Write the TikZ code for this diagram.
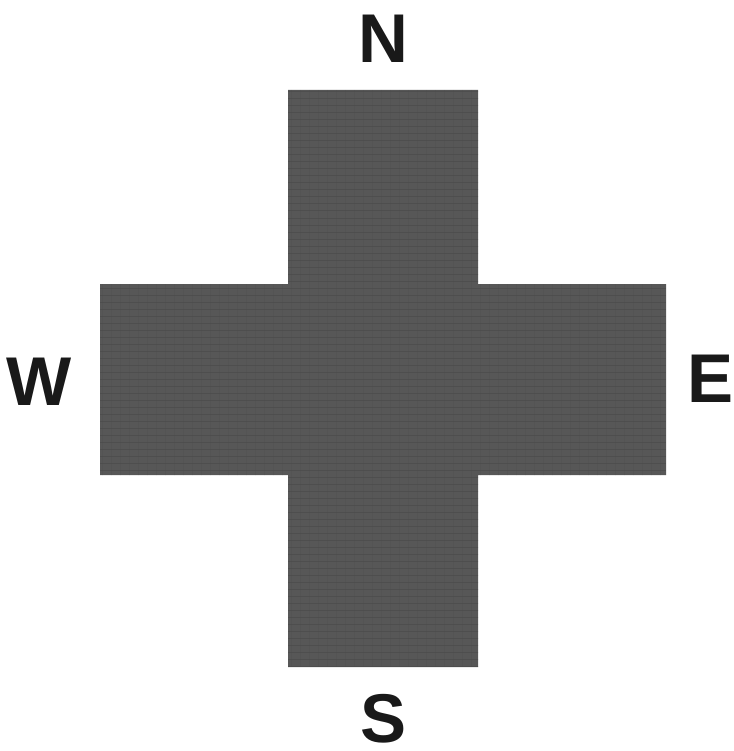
\documentclass[tikz,border=0pt]{standalone}
\usepackage{fontspec}
\setmainfont{Liberation Sans}
\definecolor{crossgray}{gray}{0.34}
\begin{document}
\begin{tikzpicture}[x=1pt, y=-1pt, every node/.style={font=\fontsize{69}{69}\selectfont\bfseries, text=black!90, anchor=base, inner sep=0pt, text depth=0pt}]
  \useasboundingbox (0,0) rectangle (733,751);
  % the cross
  \path[fill=crossgray] (288,90) -- (478,90) -- (478,284) -- (666,284) -- (666,475) -- (478,475)
    -- (478,667) -- (288,667) -- (288,475) -- (100,475) -- (100,284) -- (288,284) -- cycle;
  % woven texture
  \begin{scope}
    \clip (288,90) -- (478,90) -- (478,284) -- (666,284) -- (666,475) -- (478,475)
      -- (478,667) -- (288,667) -- (288,475) -- (100,475) -- (100,284) -- (288,284) -- cycle;
    \foreach \y in {92,99,...,667}
      \draw[black!75, line width=1pt, opacity=0.35] (100,\y) -- (666,\y);
    \foreach \x in {102,111,...,666}
      \draw[black!70, line width=0.8pt, opacity=0.25] (\x,90) -- (\x,667);
  \end{scope}
  \node (N) at (383,63) {N};
  \node (W) at (39,405) {W};
  \node (E) at (710,402) {E};
  \node (S) at (384,742) {S};
\end{tikzpicture}
\end{document}
